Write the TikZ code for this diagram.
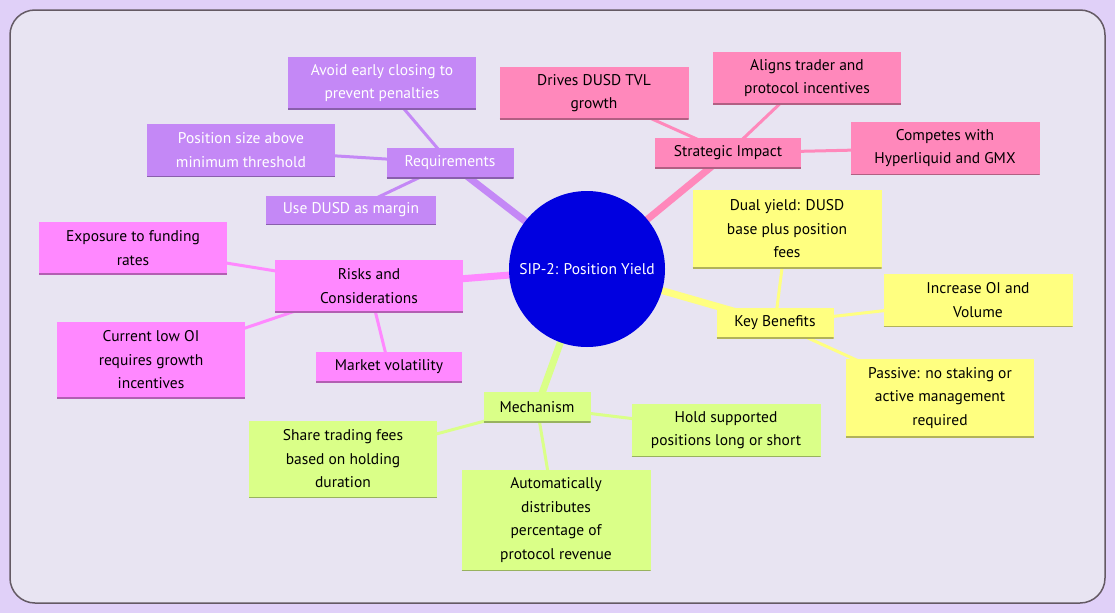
\documentclass[tikz,border=0pt]{standalone}
\usepackage{fontspec}
\setmainfont{PT Sans}
\begin{document}
\begin{tikzpicture}[x=1pt,y=-1pt,
 every node/.style={font=\fontsize{15.5}{23.5}\selectfont,align=center,inner sep=0pt},
 leaf/.style={line width=3pt}]
\definecolor{cReq}{HTML}{C488F6}
\definecolor{cStr}{HTML}{FF88BB}
\definecolor{cKey}{HTML}{FFFF80}
\definecolor{cMech}{HTML}{DAFF88}
\definecolor{cRisk}{HTML}{FF88FF}
\fill[fill={rgb,255:red,224;green,208;blue,248}] (0,0) rectangle (1115,613);
\useasboundingbox (0,0) rectangle (1115,613);
\draw[fill={rgb,255:red,232;green,228;blue,242},draw={rgb,255:red,100;green,90;blue,100},line width=1.5pt,rounded corners=25pt] (10,10) rectangle (1105,603);
\coordinate (C) at (587,269);
\draw[cReq,line width=7pt] (C) -- (450,163) coordinate (reqc);
\draw[cStr,line width=7pt] (C) -- (728,153) coordinate (strc);
\draw[cKey,line width=7pt] (C) -- (775,323) coordinate (keyc);
\draw[cMech,line width=7pt] (C) -- (537,407) coordinate (mechc);
\draw[cRisk,line width=7pt] (C) -- (369,286) coordinate (riskc);
\coordinate (a1) at (382,83); \coordinate (a2) at (241,150); \coordinate (a3) at (351,210);
\coordinate (b1) at (594,93); \coordinate (b2) at (807,78); \coordinate (b3) at (945,148);
\coordinate (k1) at (787,229); \coordinate (k2) at (978,300); \coordinate (k3) at (940,398);
\coordinate (m1) at (726,430); \coordinate (m2) at (343,459); \coordinate (m3) at (556,520);
\coordinate (r1) at (133,248); \coordinate (r2) at (151,360); \coordinate (r3) at (389,367);
\foreach \t in {a1,a2,a3} \draw[cReq,leaf] (reqc) -- (\t);
\foreach \t in {b1,b2,b3} \draw[cStr,leaf] (strc) -- (\t);
\foreach \t in {k1,k2,k3} \draw[cKey,leaf] (keyc) -- (\t);
\foreach \t in {m1,m2,m3} \draw[cMech,leaf] (mechc) -- (\t);
\foreach \t in {r1,r2,r3} \draw[cRisk,leaf] (riskc) -- (\t);
\node[circle,fill={rgb,255:red,0;green,0;blue,224},minimum size=156pt,text=white] (center) at (C) {SIP-2: Position Yield};
\tikzset{nb/.style n args={4}{fill=#1,minimum width=#2,minimum height=#3,text=#4,
  path picture={\draw[#1!70!black,line width=1.5pt] (path picture bounding box.south west)--(path picture bounding box.south east);}}}
\node[nb={cReq}{127pt}{30pt}{white}] (req) at (reqc) {Requirements};
\node[nb={cReq}{188pt}{52pt}{white}] (A1) at (a1) {Avoid early closing to\\prevent penalties};
\node[nb={cReq}{188pt}{53pt}{white}] (A2) at (a2) {Position size above\\minimum threshold};
\node[nb={cReq}{170pt}{29pt}{white}] (A3) at (a3) {Use DUSD as margin};
\node[nb={cStr}{146pt}{30pt}{black}] (str) at (strc) {Strategic Impact};
\node[nb={cStr}{189pt}{52pt}{black}] (B1) at (b1) {Drives DUSD TVL\\growth};
\node[nb={cStr}{188pt}{52pt}{black}] (B2) at (b2) {Aligns trader and\\protocol incentives};
\node[nb={cStr}{189pt}{53pt}{black}] (B3) at (b3) {Competes with\\Hyperliquid and GMX};
\node[nb={cKey}{117pt}{30pt}{black}] (key) at (keyc) {Key Benefits};
\node[nb={cKey}{189pt}{78pt}{black}] (K1) at (k1) {Dual yield: DUSD\\base plus position\\fees};
\node[nb={cKey}{189pt}{53pt}{black}] (K2) at (k2) {Increase OI and\\Volume};
\node[nb={cKey}{188pt}{78pt}{black}] (K3) at (k3) {Passive: no staking or\\active management\\required};
\node[nb={cMech}{107pt}{30pt}{black}] (mech) at (mechc) {Mechanism};
\node[nb={cMech}{189pt}{53pt}{black}] (M1) at (m1) {Hold supported\\positions long or short};
\node[nb={cMech}{188pt}{77pt}{black}] (M2) at (m2) {Share trading fees\\based on holding\\duration};
\node[nb={cMech}{189pt}{101pt}{black}] (M3) at (m3) {Automatically\\distributes\\percentage of\\protocol revenue};
\node[nb={cRisk}{188pt}{52pt}{black}] (risk) at (riskc) {Risks and\\Considerations};
\node[nb={cRisk}{188pt}{52pt}{black}] (R1) at (r1) {Exposure to funding\\rates};
\node[nb={cRisk}{188pt}{76pt}{black}] (R2) at (r2) {Current low OI\\requires growth\\incentives};
\node[nb={cRisk}{146pt}{30pt}{black}] (R3) at (r3) {Market volatility};
\end{tikzpicture}
\end{document}
